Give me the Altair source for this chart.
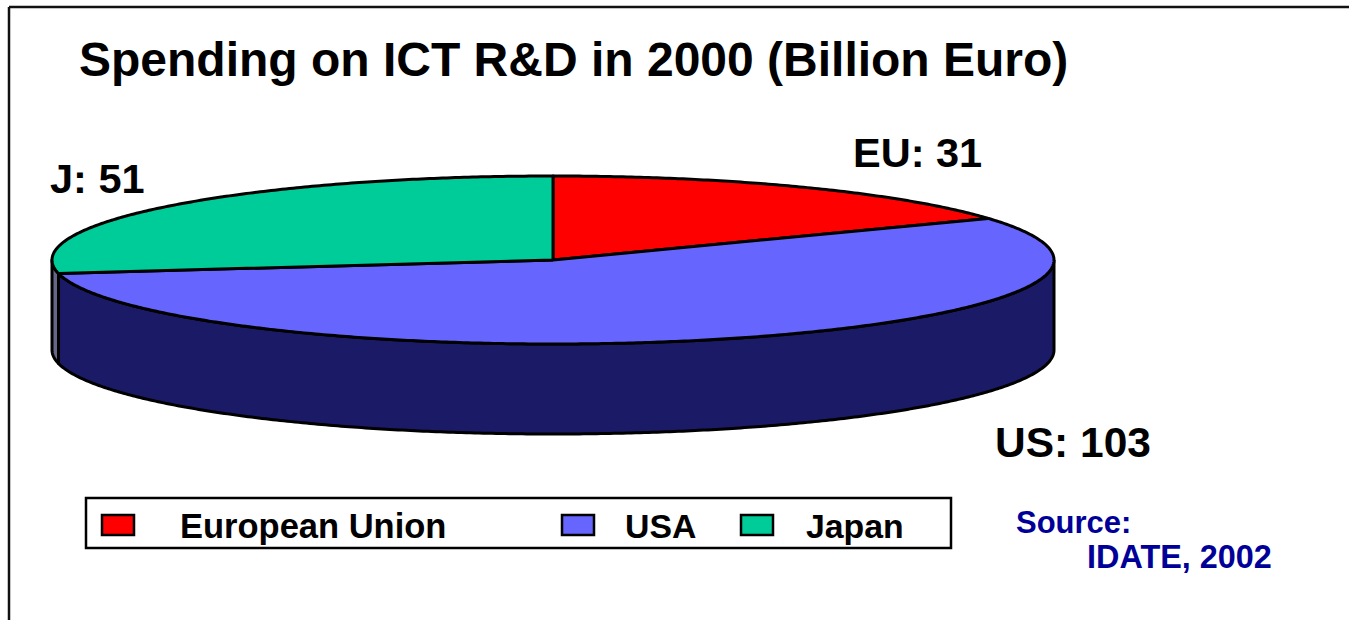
import numpy as np
import pandas as pd
import altair as alt

# Spending by region, billion euro
regions = ["European Union", "USA", "Japan"]
spending = [31, 103, 51]
short_labels = ["EU: 31", "US: 103", "J: 51"]
top_colors = ["#FF0000", "#6666FF", "#00CC99"]
side_colors = ["#800000", "#1A1A66", "#666688"]

W, H = 1349, 620
CX, CY, RX, RY, DEPTH = 553, 260, 501, 84, 90
FONT = "Liberation Sans"

# Unit coordinates for the tilted disc: the scales place the ellipse on the page
x_scale = alt.Scale(domain=[-CX / RX, (W - CX) / RX], range=[0, W], nice=False, zero=False)
y_scale = alt.Scale(domain=[CY / RY, (CY - H) / RY], range=[0, H], nice=False, zero=False)
x_enc = alt.X("x:Q", scale=x_scale, axis=None)
y_enc = alt.Y("y:Q", scale=y_scale, axis=None)


def rows(points, name):
    return pd.DataFrame([{"x": a, "y": b, "i": i, "shape": name} for i, (a, b) in enumerate(points)])


def wedge(start, end, name):
    t = np.radians(np.arange(start, end, 0.5).tolist() + [end])
    rim = list(zip(np.sin(t), np.cos(t)))
    return rows([(0.0, 0.0)] + rim + [(0.0, 0.0)], name)


def wall(start, end, name):
    t = np.radians(np.arange(start, end, 0.5).tolist() + [end])
    drop = DEPTH / RY
    upper = list(zip(np.sin(t), np.cos(t)))
    lower = [(a, b - drop) for a, b in upper[::-1]]
    return rows(upper + lower + upper[:1], name)


def polygon(df, fill):
    return (
        alt.Chart(df)
        .mark_line(fill=fill, stroke="black", strokeWidth=3, strokeJoin="round", interpolate="linear")
        .encode(x=x_enc, y=y_enc, order="i:Q")
    )


def text(label, x, y, size, color="black"):
    return (
        alt.Chart(pd.DataFrame({"t": [label]}))
        .mark_text(font=FONT, fontWeight="bold", fontSize=size, color=color, align="left", baseline="alphabetic")
        .encode(x=alt.value(x), y=alt.value(y), text="t:N")
    )


def box(x0, x1, y0, y1, fill, width):
    return (
        alt.Chart(pd.DataFrame({"k": [0]}))
        .mark_rect(fill=fill, stroke="black", strokeWidth=width)
        .encode(x=alt.value(x0), x2=alt.value(x1), y=alt.value(y0), y2=alt.value(y1))
    )


def rule(x0, x1, y0, y1):
    return (
        alt.Chart(pd.DataFrame({"k": [0]}))
        .mark_rule(color="#111111", strokeWidth=2.5)
        .encode(x=alt.value(x0), x2=alt.value(x1), y=alt.value(y0), y2=alt.value(y1))
    )


# Slice angles run clockwise from twelve o'clock
total = sum(spending)
edges = np.cumsum([0] + spending) / total * 360

layers = [rule(9, W, 7, 7), rule(9, 9, 7, H)]

# Only the front half of the rim is visible
for k in range(len(regions)):
    lo, hi = max(edges[k], 90.0), min(edges[k + 1], 270.0)
    if lo < hi:
        layers.append(polygon(wall(lo, hi, regions[k]), side_colors[k]))

for k in range(len(regions)):
    layers.append(polygon(wedge(edges[k], edges[k + 1], regions[k]), top_colors[k]))

layers += [
    text("Spending on ICT R&D in 2000 (Billion Euro)", 79, 76, 48),
    text(short_labels[0], 853, 167, 41.5),
    text(short_labels[1], 995, 457, 42.5),
    text(short_labels[2], 50, 193, 41.5),
]

# Legend strip
layers.append(box(86, 951, 498, 548, "white", 2.5))
swatches = [(102, 134), (562, 594), (741, 773)]
label_x = [180, 625, 806]
for k in range(len(regions)):
    layers.append(box(swatches[k][0], swatches[k][1], 515, 535, top_colors[k], 2.5))
    layers.append(text(regions[k], label_x[k], 538, 34.5 if k == 0 else 33.8))

layers += [
    text("Source:", 1016, 533, 31, "#000099"),
    text("IDATE, 2002", 1087, 568, 32.4, "#000099"),
]

chart = (
    alt.layer(*layers)
    .properties(width=W, height=H, padding=0, background="white", autosize=alt.AutoSizeParams(type="none"))
    .configure_view(stroke=None)
)

chart.save("out.html", embed_options={"renderer": "svg", "actions": False})
